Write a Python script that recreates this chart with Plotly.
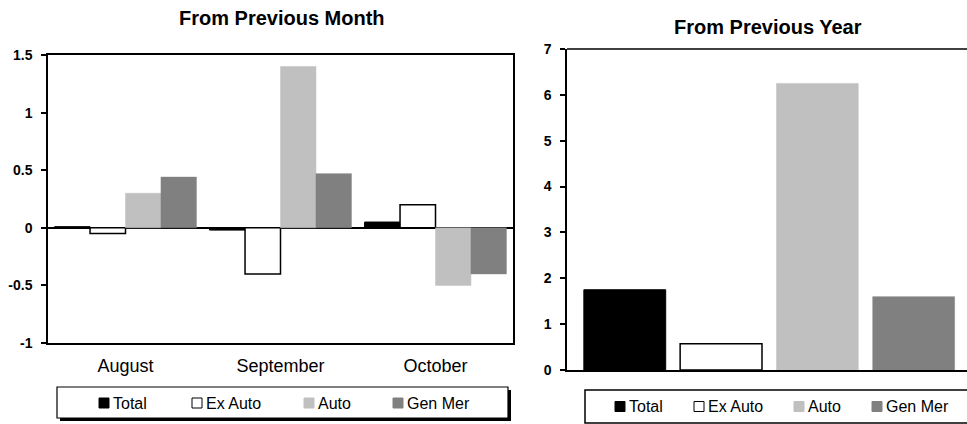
import plotly.graph_objects as go

# ---------------- data ----------------
months = ["August", "September", "October"]
series = ["Total", "Ex Auto", "Auto", "Gen Mer"]
month_total = [0.01, -0.02, 0.05]
month_ex_auto = [-0.05, -0.40, 0.20]
month_auto = [0.30, 1.40, -0.50]
month_gen_mer = [0.44, 0.47, -0.40]
year_values = [1.75, 0.57, 6.25, 1.60]
month_ticks = [-1, -0.5, 0, 0.5, 1, 1.5]
year_ticks = [0, 1, 2, 3, 4, 5, 6, 7]

# ---------------- styles ----------------
fills = ["#000000", "#ffffff", "#c0c0c0", "#808080"]
lines = ["#000000", "#000000", "#c0c0c0", "#808080"]
line_w = [1, 1.5, 0.5, 0.5]

W, H = 967, 424
FONT = "Liberation Sans, Arial, sans-serif"


def px(x):
    return x / W


def py(y):
    return 1 - y / H


fig = go.Figure()

month_data = [month_total, month_ex_auto, month_auto, month_gen_mer]
for name, vals, fc, lc, lw in zip(series, month_data, fills, lines, line_w):
    fig.add_trace(go.Bar(
        x=months, y=vals, name=name, xaxis="x", yaxis="y",
        marker=dict(color=fc, line=dict(color=lc, width=lw)),
        showlegend=False,
    ))

fig.add_trace(go.Bar(
    x=series, y=year_values, xaxis="x2", yaxis="y2", width=0.85,
    marker=dict(color=fills, line=dict(color=lines, width=line_w)),
    showlegend=False,
))

fig.update_layout(
    width=W, height=H, autosize=False,
    margin=dict(l=0, r=0, t=0, b=0, pad=0, autoexpand=False),
    paper_bgcolor="white", plot_bgcolor="white",
    barmode="group", bargap=0.085, bargroupgap=0,
    showlegend=False,
    font=dict(family=FONT, color="black"),
    xaxis=dict(domain=[px(48), px(513)], anchor="y", showline=True, mirror=True,
               linecolor="black", linewidth=1.5, showgrid=False, ticks="",
               ticklabelstandoff=6, automargin=False,
               tickfont=dict(family=FONT, size=18, color="black")),
    yaxis=dict(domain=[py(343), py(55)], anchor="x", range=[-1, 1.5],
               tickvals=month_ticks, ticktext=[f"{v:g}" for v in month_ticks],
               ticks="outside", ticklen=5, tickcolor="black", tickwidth=1.5,
               showline=True, mirror=True, linecolor="black", linewidth=1.5,
               showgrid=False, zeroline=True, zerolinecolor="black", zerolinewidth=1.5,
               ticklabelstandoff=6, automargin=False,
               tickfont=dict(family=FONT, size=14, color="black", weight="bold")),
    xaxis2=dict(domain=[px(567), 1.0], anchor="y2", range=[-0.6, 3.554],
                showline=True, linecolor="black", linewidth=1.5, showgrid=False,
                showticklabels=False, ticks="", automargin=False),
    yaxis2=dict(domain=[py(370), py(49)], anchor="x2", range=[0, 7],
                tickvals=year_ticks, ticks="outside", ticklen=5, tickcolor="black",
                tickwidth=1.5, showline=True, linecolor="black", linewidth=1.5,
                showgrid=False, zeroline=False, ticklabelstandoff=6, automargin=False,
                tickfont=dict(family=FONT, size=14, color="black", weight="bold")),
)

shapes = []
annotations = []

# top border of the right chart (frame continues beyond the crop)
shapes.append(dict(type="line", xref="x2 domain", yref="y2 domain", x0=0, x1=1, y0=1, y1=1,
                   line=dict(color="black", width=1.5), layer="above"))

# titles
annotations.append(dict(text="<b>From Previous Month</b>", x=px(282), y=py(18), xref="paper",
                        yref="paper", showarrow=False, font=dict(family=FONT, size=20, color="black"),
                        xanchor="center", yanchor="middle"))
annotations.append(dict(text="<b>From Previous Year</b>", x=px(768), y=py(27), xref="paper",
                        yref="paper", showarrow=False, font=dict(family=FONT, size=20, color="black"),
                        xanchor="center", yanchor="middle"))

# legend boxes
shapes.append(dict(type="rect", xref="paper", yref="paper", x0=px(60), x1=px(511),
                   y0=py(421), y1=py(390), fillcolor="black", line=dict(width=0), layer="above"))
shapes.append(dict(type="rect", xref="paper", yref="paper", x0=px(57), x1=px(508),
                   y0=py(418), y1=py(387), fillcolor="white", line=dict(color="black", width=1.2),
                   layer="above"))
shapes.append(dict(type="rect", xref="paper", yref="paper", x0=px(585), x1=px(985),
                   y0=py(423), y1=py(390), fillcolor="white", line=dict(color="black", width=1.5),
                   layer="above"))

left_leg_x = [99, 192, 304, 393]
right_leg_x = [615, 694, 794, 872]
for xs, yc in ((left_leg_x, 403), (right_leg_x, 406.5)):
    for name, x0, fc in zip(series, xs, fills):
        shapes.append(dict(type="rect", xref="paper", yref="paper", x0=px(x0), x1=px(x0 + 10),
                           y0=py(yc + 5), y1=py(yc - 5), fillcolor=fc,
                           line=dict(color="black" if fc in ("#000000", "#ffffff") else fc, width=1),
                           layer="above"))
        annotations.append(dict(text=name, x=px(x0 + 12), y=py(yc), xref="paper", yref="paper",
                                showarrow=False, xanchor="left", yanchor="middle",
                                font=dict(family=FONT, size=16, color="black")))

fig.update_layout(shapes=shapes, annotations=annotations)

fig.write_html(
    "out.html",
    config={"displayModeBar": False},
    post_script="document.body.style.margin='0';document.body.style.overflow='hidden';",
)
